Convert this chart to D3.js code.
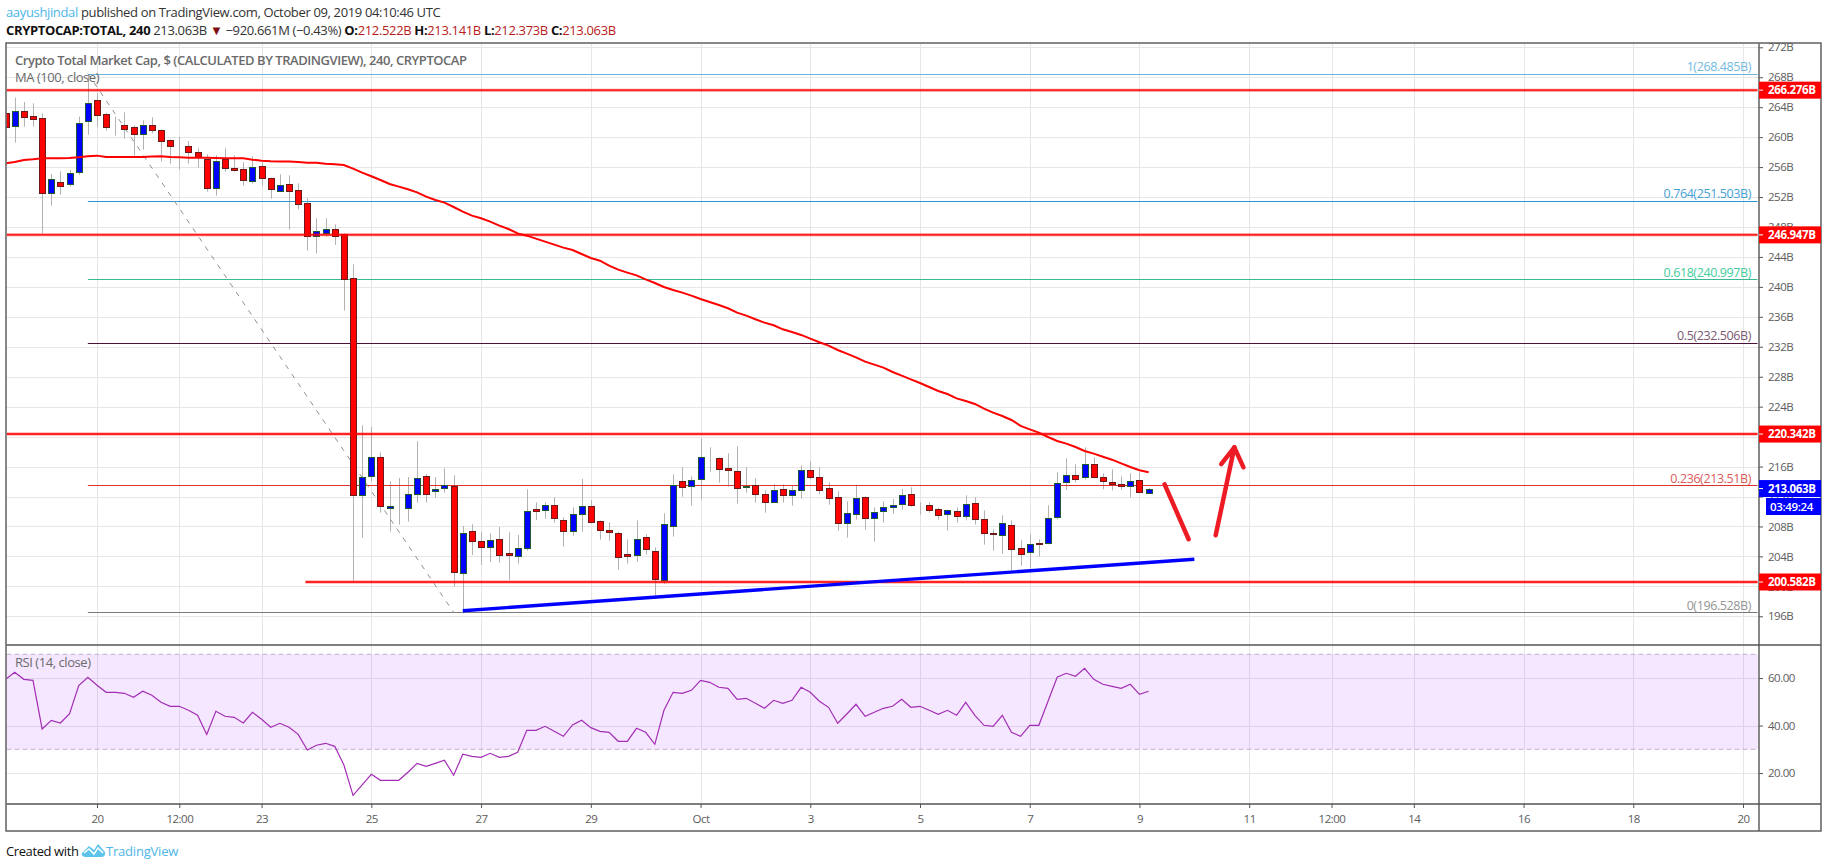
<!DOCTYPE html>
<html>
<head>
<meta charset="utf-8">
<title>Crypto Total Market Cap</title>
<script src="https://cdnjs.cloudflare.com/ajax/libs/d3/7.8.5/d3.min.js"></script>
<style>
  html, body { margin: 0; padding: 0; background: #fff; }
  svg { display: block; }
  text { font-family: "Open Sans", sans-serif; }
</style>
</head>
<body>
<svg id="chart" width="1828" height="868"></svg>
<script>
// 4h candles, first bar is Sep 18 2019 08:00 UTC, values in billions
const first_bar = Date.UTC(2019, 8, 18, 8);

const opens = [263.18,261.40,263.45,262.78,262.52,252.50,253.97,253.70,255.30,262.11,264.92,263.05,261.31,261.58,261.31,260.38,261.58,260.91,259.58,258.78,
  258.78,257.97,257.04,253.17,257.04,255.84,255.70,254.10,256.10,254.50,252.77,253.70,252.90,251.16,246.75,247.16,247.69,247.02,241.15,212.12,
  214.65,217.24,210.38,210.69,210.38,212.29,214.70,212.65,213.05,213.36,201.70,207.35,206.02,205.17,206.28,204.41,204.01,205.08,210.29,210.15,
  210.82,208.82,207.35,209.62,210.69,208.68,207.48,207.08,204.28,204.14,206.55,204.68,200.80,208.15,214.03,213.36,214.29,216.83,217.10,215.76,
  215.36,213.23,213.49,212.29,211.22,212.96,212.16,212.82,215.50,214.56,213.09,211.89,208.42,209.62,211.89,209.09,210.02,210.55,210.96,212.29,
  210.96,210.82,210.29,209.62,210.02,209.35,211.09,208.95,207.08,206.81,208.15,205.08,204.54,205.75,205.75,209.22,213.89,214.83,214.56,216.30,
  214.56,213.89,213.63,213.36,214.16,212.52];
const highs = [263.40,265.27,264.70,264.52,263.18,255.08,255.44,255.61,262.74,268.30,265.85,263.20,262.74,263.32,261.58,262.25,262.65,261.05,259.71,260.02,
  259.49,258.51,257.71,257.57,258.51,257.57,256.64,257.44,256.64,254.60,255.04,254.90,253.83,251.83,249.16,249.16,248.36,247.16,243.02,221.51,
  221.29,217.90,214.03,214.48,214.61,219.37,214.97,214.61,215.77,214.83,208.07,208.29,207.22,207.09,207.93,207.22,206.86,212.96,211.22,211.22,
  211.89,209.22,210.55,214.34,211.53,208.80,208.55,207.30,206.28,208.82,206.95,205.21,209.75,214.96,215.90,214.69,219.77,218.57,217.23,217.77,
  218.70,215.90,214.43,212.82,213.63,213.63,213.49,216.16,216.70,215.90,213.89,212.69,211.36,213.58,212.02,210.55,211.36,211.67,213.00,213.23,
  211.22,211.22,210.51,210.24,210.55,212.16,211.89,210.15,207.62,209.49,208.82,206.15,206.95,206.28,210.82,215.27,217.10,216.30,218.57,217.23,
  215.10,215.63,214.69,215.10,215.23,213.14];
const lows = [261.27,259.27,261.40,261.40,247.16,250.85,252.27,253.39,254.95,260.33,261.40,260.87,260.20,259.80,257.53,258.33,260.51,256.73,256.46,255.66,
  256.46,255.93,252.72,252.19,255.39,255.39,253.52,253.83,253.52,251.79,252.72,247.65,250.36,244.84,244.48,246.71,245.60,236.83,200.76,206.51,
  213.99,209.85,207.31,208.24,208.64,211.18,211.18,211.85,212.52,199.96,196.40,204.19,202.86,203.26,203.16,200.85,203.03,204.77,208.86,209.04,
  208.51,205.30,206.77,207.30,208.42,206.24,206.10,202.23,203.03,203.30,204.23,198.80,200.31,206.64,211.98,210.78,211.58,215.32,213.85,213.31,
  211.04,212.51,211.18,209.84,211.18,211.18,210.78,211.71,214.29,212.29,210.91,207.44,206.50,208.91,207.57,205.97,208.51,209.71,210.24,210.64,
  209.57,209.84,208.91,207.44,208.51,208.82,208.24,205.57,204.77,204.37,202.10,202.76,202.36,203.97,205.61,208.95,212.91,213.89,214.29,214.43,
  212.96,212.82,212.91,211.89,212.51,212.37];
const closes = [261.27,263.45,262.65,262.34,252.50,254.37,253.43,255.17,261.85,264.52,262.87,261.31,261.32,261.05,260.38,261.58,260.91,259.40,258.78,258.73,
  257.97,257.31,253.17,256.77,255.84,255.57,254.23,255.97,254.50,253.03,253.57,252.77,251.03,246.75,247.42,247.69,246.75,241.01,212.11,214.57,
  217.24,210.65,210.69,210.70,212.29,214.43,212.25,212.96,213.50,201.83,207.09,205.97,205.17,206.15,204.14,204.14,205.08,210.02,210.02,210.82,
  209.09,207.35,209.62,210.69,208.55,207.48,207.22,203.88,204.01,206.28,204.95,200.94,208.28,213.58,213.23,214.16,217.23,216.79,215.63,215.50,
  213.09,213.36,212.29,211.22,212.82,212.16,212.82,215.50,214.56,212.82,211.76,208.42,209.75,211.76,209.09,209.89,210.55,210.82,212.16,210.82,
  210.91,210.15,209.49,210.15,209.35,210.96,208.95,207.08,206.95,208.42,204.95,204.28,205.61,205.61,209.09,213.76,214.83,214.29,216.30,214.56,
  214.03,213.63,213.36,214.03,212.56,213.06];
const ma100 = [256.50,256.68,256.95,257.04,257.17,257.17,257.17,257.22,257.31,257.44,257.53,257.35,257.35,257.35,257.35,257.35,257.40,257.44,257.35,257.31,
  257.26,257.26,257.26,257.22,257.17,257.17,257.17,256.99,256.86,256.77,256.73,256.73,256.68,256.59,256.59,256.46,256.37,256.28,255.79,255.26,
  254.77,254.28,253.74,253.39,253.03,252.63,252.05,251.61,251.25,250.67,250.05,249.51,249.16,248.71,248.18,247.73,247.15,246.84,246.44,246.04,
  245.64,245.24,244.93,244.39,243.86,243.50,242.84,242.30,241.90,241.54,241.01,240.52,239.98,239.58,239.23,238.83,238.38,237.98,237.58,237.14,
  236.56,236.16,235.67,235.22,234.87,234.33,233.98,233.58,233.09,232.60,232.15,231.57,231.08,230.59,230.01,229.61,229.21,228.63,228.14,227.65,
  227.16,226.63,226.09,225.69,225.11,224.76,224.36,223.73,223.20,222.75,222.22,221.44,220.97,220.53,219.95,219.42,219.06,218.61,218.08,217.73,
  217.32,216.92,216.43,215.94,215.50,215.23];
const rsi14 = [59.47,62.42,59.47,59.05,38.56,42.21,41.09,45.02,56.81,60.32,56.95,53.99,53.99,53.58,51.89,54.42,52.74,49.79,48.11,48.11,
  46.42,44.32,36.28,46.00,43.90,43.47,41.09,45.58,42.63,39.27,40.95,39.27,36.28,29.72,31.69,32.53,31.26,23.40,10.63,14.98,
  19.47,16.95,16.95,16.95,20.32,24.10,22.84,24.10,25.37,19.05,27.90,27.05,26.63,28.31,26.63,27.05,28.74,38.00,38.00,39.68,
  37.58,35.47,40.25,42.21,39.12,37.58,37.16,33.37,33.37,38.84,37.16,32.11,46.42,53.99,53.58,54.84,59.05,58.21,56.11,55.69,
  51.05,51.47,49.37,47.26,50.63,49.37,50.63,56.11,53.99,50.21,47.68,40.95,44.88,48.95,43.90,45.58,47.26,48.11,51.05,47.68,
  48.11,46.42,44.74,46.42,44.32,49.79,44.32,40.11,39.68,44.32,37.16,35.47,40.11,40.11,50.21,60.32,62.00,60.74,64.10,59.47,
  57.37,56.53,55.69,57.37,53.16,54.42];

const price_ticks = d3.range(196, 273, 4);
const rsi_ticks = [20, 40, 60];
const time_ticks = [
  [Date.UTC(2019, 8, 20), '20'], [Date.UTC(2019, 8, 21, 12), '12:00'], [Date.UTC(2019, 8, 23), '23'],
  [Date.UTC(2019, 8, 25), '25'], [Date.UTC(2019, 8, 27), '27'], [Date.UTC(2019, 8, 29), '29'],
  [Date.UTC(2019, 9, 1), 'Oct'], [Date.UTC(2019, 9, 3), '3'], [Date.UTC(2019, 9, 5), '5'],
  [Date.UTC(2019, 9, 7), '7'], [Date.UTC(2019, 9, 9), '9'], [Date.UTC(2019, 9, 11), '11'],
  [Date.UTC(2019, 9, 12, 12), '12:00'], [Date.UTC(2019, 9, 14), '14'], [Date.UTC(2019, 9, 16), '16'],
  [Date.UTC(2019, 9, 18), '18'], [Date.UTC(2019, 9, 20), '20']
];

// horizontal levels drawn by hand on the chart
const sr_levels = [266.276, 246.947, 220.342, 200.582];
const fib_ratios = ['1', '0.764', '0.618', '0.5', '0.236', '0'];
const fib_prices = [268.485, 251.503, 240.997, 232.506, 213.51, 196.528];
const fib_colors = ['#6fb3dc', '#2b96cf', '#3db894', '#4a1035', '#e03030', '#7a7a7a'];
const fib_text_colors = ['#74b9e0', '#45a0d4', '#45cc9e', '#7a5a72', '#dc5a5a', '#959595'];
const fib_start = Date.UTC(2019, 8, 19, 20);
const fib_end_bar = Date.UTC(2019, 8, 26, 12);

// trend line and the two hand drawn arrows, [time, price]
const trend_line = [[Date.UTC(2019, 8, 26, 16), 196.75], [Date.UTC(2019, 9, 10, 0), 203.62]];
const down_arrow = [[Date.UTC(2019, 9, 9, 11), 213.63], [Date.UTC(2019, 9, 9, 21, 30), 206.29]];
const up_arrow = [[Date.UTC(2019, 9, 10, 9, 20), 206.82], [Date.UTC(2019, 9, 10, 17, 30), 218.57]];
const up_head = [[Date.UTC(2019, 9, 10, 11, 45), 216.34], [Date.UTC(2019, 9, 10, 17, 30), 218.57], [Date.UTC(2019, 9, 10, 21, 30), 215.90]];

const pane_left = 6.5, pane_right = 1759, pane_top = 43.5, pane_bottom = 645, rsi_bottom = 804, frame_right = 1821, frame_bottom = 831;

const svg = d3.select('#chart');

const x = d3.scaleUtc().domain([Date.UTC(2019, 8, 20), Date.UTC(2019, 9, 20)]).range([97, 1743]);
const y = d3.scaleLinear().domain([272, 196]).range([47.3, 616.3]);
const y_rsi = d3.scaleLinear().domain([70, 30]).range([654.3, 749.3]);

const bar_time = i => first_bar + i * 4 * 3600 * 1000;

svg.append('defs').append('clipPath').attr('id', 'main-clip')
  .append('rect').attr('x', pane_left).attr('y', pane_top)
  .attr('width', pane_right - pane_left).attr('height', pane_bottom - pane_top);
svg.select('defs').append('clipPath').attr('id', 'rsi-clip')
  .append('rect').attr('x', pane_left).attr('y', pane_bottom)
  .attr('width', pane_right - pane_left).attr('height', rsi_bottom - pane_bottom);

// grids
const grid = svg.append('g').attr('stroke', '#e6e6e6').attr('stroke-width', 1);
grid.selectAll('.vgrid').data(time_ticks).join('line')
  .attr('class', 'vgrid')
  .attr('x1', d => Math.round(x(d[0])) + 0.5).attr('x2', d => Math.round(x(d[0])) + 0.5)
  .attr('y1', pane_top).attr('y2', rsi_bottom);
grid.selectAll('.hgrid').data(price_ticks).join('line')
  .attr('class', 'hgrid')
  .attr('x1', pane_left).attr('x2', pane_right)
  .attr('y1', d => Math.round(y(d)) + 0.5).attr('y2', d => Math.round(y(d)) + 0.5);
grid.selectAll('.rgrid').data(rsi_ticks).join('line')
  .attr('class', 'rgrid')
  .attr('x1', pane_left).attr('x2', pane_right)
  .attr('y1', d => Math.round(y_rsi(d)) + 0.5).attr('y2', d => Math.round(y_rsi(d)) + 0.5);

// rsi band
svg.append('rect')
  .attr('x', pane_left).attr('y', y_rsi(70))
  .attr('width', pane_right - pane_left - 1).attr('height', y_rsi(30) - y_rsi(70))
  .attr('fill', '#9915ff').attr('fill-opacity', 0.1);
svg.selectAll('.rsi-bound').data([70, 30]).join('line')
  .attr('class', 'rsi-bound')
  .attr('x1', pane_left).attr('x2', pane_right - 1)
  .attr('y1', d => y_rsi(d)).attr('y2', d => y_rsi(d))
  .attr('stroke', '#c3aecb').attr('stroke-dasharray', '5 3');

const main = svg.append('g').attr('clip-path', 'url(#main-clip)');

// wicks under everything
main.selectAll('.wick').data(opens).join('line')
  .attr('class', 'wick')
  .attr('x1', (d, i) => Math.round(x(bar_time(i))) + 0.5).attr('x2', (d, i) => Math.round(x(bar_time(i))) + 0.5)
  .attr('y1', (d, i) => y(highs[i])).attr('y2', (d, i) => y(lows[i]))
  .attr('stroke', '#b2b2b2');

// fib levels
main.selectAll('.fib').data(fib_prices).join('line')
  .attr('class', 'fib')
  .attr('x1', x(fib_start)).attr('x2', pane_right - 1.5)
  .attr('y1', d => Math.round(y(d)) + 0.5).attr('y2', d => Math.round(y(d)) + 0.5)
  .attr('stroke', (d, i) => fib_colors[i]);
main.append('line')
  .attr('x1', x(fib_start)).attr('y1', y(fib_prices[0]))
  .attr('x2', x(fib_end_bar)).attr('y2', y(fib_prices[5]))
  .attr('stroke', '#8f8f8f').attr('stroke-dasharray', '5 6');

// candle bodies
main.selectAll('.body').data(opens).join('rect')
  .attr('class', 'body')
  .attr('x', (d, i) => Math.round(x(bar_time(i))) - 2.5)
  .attr('width', 6)
  .attr('y', (d, i) => Math.round(y(Math.max(d, closes[i]))) + 0.5)
  .attr('height', (d, i) => Math.max(0, Math.round(Math.abs(y(d) - y(closes[i])))))
  .attr('fill', (d, i) => closes[i] >= d ? '#0000ff' : '#ff0000')
  .attr('stroke', (d, i) => closes[i] >= d ? '#1d5c2e' : '#6b1a1a');

// moving average
const line_ma = d3.line().x((d, i) => x(bar_time(i))).y(d => y(d));
main.append('path').datum(ma100)
  .attr('d', line_ma)
  .attr('fill', 'none').attr('stroke', '#ff0000').attr('stroke-width', 2);

// support and resistance
const sr = main.selectAll('.sr').data(sr_levels).join('g').attr('class', 'sr');
const sr_x = d => d === 200.582 ? 305.5 : pane_left;
sr.append('line')
  .attr('x1', sr_x).attr('x2', pane_right - 1.5)
  .attr('y1', d => y(d)).attr('y2', d => y(d))
  .attr('stroke', '#ff0000').attr('stroke-opacity', 0.45).attr('stroke-width', 3);
sr.append('line')
  .attr('x1', sr_x).attr('x2', pane_right - 1.5)
  .attr('y1', d => y(d)).attr('y2', d => y(d))
  .attr('stroke', '#ff0000').attr('stroke-width', 1.4);

// trend line
const line_draw = d3.line().x(d => x(d[0])).y(d => y(d[1]));
main.append('path').datum(trend_line)
  .attr('d', line_draw)
  .attr('fill', 'none').attr('stroke', '#0000ff').attr('stroke-width', 3.4);

// arrows
main.selectAll('.arrow').data([down_arrow, up_arrow, up_head]).join('path')
  .attr('class', 'arrow')
  .attr('d', line_draw)
  .attr('fill', 'none').attr('stroke', '#ed1c24').attr('stroke-width', 4.5)
  .attr('stroke-linecap', 'round').attr('stroke-linejoin', 'round');

// rsi line
const line_rsi = d3.line().x((d, i) => x(bar_time(i))).y(d => y_rsi(d));
svg.append('g').attr('clip-path', 'url(#rsi-clip)')
  .append('path').datum(rsi14)
  .attr('d', line_rsi)
  .attr('fill', 'none').attr('stroke', '#a32db5').attr('stroke-width', 1.2);

// frame
svg.append('rect')
  .attr('x', pane_left - 0.5).attr('y', pane_top - 0.5)
  .attr('width', frame_right - pane_left + 0.5).attr('height', frame_bottom - pane_top + 0.5)
  .attr('fill', 'none').attr('stroke', '#555').attr('stroke-width', 1.4);
[[pane_left, frame_right, pane_bottom], [pane_left, frame_right, rsi_bottom]].forEach(l => {
    svg.append('line').attr('x1', l[0]).attr('x2', l[1]).attr('y1', l[2]).attr('y2', l[2])
      .attr('stroke', '#555').attr('stroke-width', 1.4);
});
svg.append('line').attr('x1', pane_right).attr('x2', pane_right).attr('y1', pane_top).attr('y2', frame_bottom)
  .attr('stroke', '#555').attr('stroke-width', 1.4);

// axes
const tick_style = g => {
    g.select('.domain').remove();
    g.selectAll('line').attr('stroke', '#555');
    g.selectAll('text').attr('fill', '#5c5c5c').style('font-size', '11.5px').style('letter-spacing', '-0.5px');
};
svg.append('g').attr('transform', `translate(${pane_right},0)`)
  .call(d3.axisRight(y).tickValues(price_ticks).tickFormat(d => d + 'B').tickSize(4).tickPadding(5))
  .call(tick_style);
svg.append('g').attr('transform', `translate(${pane_right},0)`)
  .call(d3.axisRight(y_rsi).tickValues(rsi_ticks).tickFormat(d3.format('.2f')).tickSize(4).tickPadding(5))
  .call(tick_style);
svg.append('g').attr('transform', `translate(0,${rsi_bottom})`)
  .call(d3.axisBottom(x).tickValues(time_ticks.map(d => d[0]))
    .tickFormat((d, i) => time_ticks[i][1]).tickSize(4).tickPadding(7))
  .call(tick_style);

// fib labels
svg.selectAll('.fib-label').data(fib_prices).join('text')
  .attr('class', 'fib-label')
  .attr('x', 1751).attr('y', d => y(d) - 2.5)
  .attr('text-anchor', 'end')
  .attr('fill', (d, i) => fib_text_colors[i])
  .style('font-size', '12.5px').style('letter-spacing', '-0.4px')
  .text((d, i) => `${fib_ratios[i]}(${d}B)`);

// price tags
const tag = svg.selectAll('.tag').data(sr_levels.map(d => [d, '#ff0000']).concat([[213.063, '#0000ff']])).join('g').attr('class', 'tag');
tag.append('rect')
  .attr('x', pane_right).attr('width', frame_right - pane_right)
  .attr('y', d => y(d[0]) - 8.5).attr('height', 17)
  .attr('fill', d => d[1]);
tag.append('line')
  .attr('x1', pane_right).attr('x2', pane_right + 4)
  .attr('y1', d => y(d[0])).attr('y2', d => y(d[0]))
  .attr('stroke', '#fff');
tag.append('text')
  .attr('x', 1768).attr('y', d => y(d[0]) + 4)
  .attr('fill', '#fff').attr('font-weight', 700)
  .style('font-size', '11.5px').style('letter-spacing', '-0.35px')
  .text(d => d[0].toFixed(3) + 'B');
svg.append('rect').attr('x', 1766).attr('y', 498).attr('width', frame_right - 1766).attr('height', 17).attr('fill', '#0000ff');
svg.append('text').attr('x', 1770).attr('y', 510.5)
  .attr('fill', '#fff').attr('font-weight', 600)
  .style('font-size', '11.5px').style('letter-spacing', '-0.35px')
  .text('03:49:24');

// pane titles
const pane_title = (label, px, py, weight) => svg.append('text')
  .attr('x', px).attr('y', py).attr('fill', '#6a6a6a').attr('font-weight', weight)
  .style('font-size', '13px').style('letter-spacing', '-0.45px').text(label);
pane_title('Crypto Total Market Cap, $ (CALCULATED BY TRADINGVIEW), 240, CRYPTOCAP', 15, 65, 600);
pane_title('MA (100, close)', 15, 82, 400);
pane_title('RSI (14, close)', 15, 667, 400);

// header
const header = svg.append('text').attr('x', 6).attr('y', 17).style('font-size', '13px').style('letter-spacing', '-0.35px');
header.append('tspan').attr('fill', '#4db6e8').text('aayushjindal');
header.append('tspan').attr('fill', '#333').text(' published on TradingView.com, October 09, 2019 04:10:46 UTC');

const quote = svg.append('text').attr('x', 6).attr('y', 34.5).style('font-size', '13px').style('letter-spacing', '-0.35px');
const quote_parts = [
  ['CRYPTOCAP:TOTAL, 240 ', '#111', 700], [' 213.063B ', '#333', 400], ['▼', '#7f1010', 400],
  [' −920.661M (−0.43%) ', '#333', 400], ['O:', '#111', 700], ['212.522B ', '#b71c1c', 400],
  ['H:', '#111', 700], ['213.141B ', '#b71c1c', 400], ['L:', '#111', 700], ['212.373B ', '#b71c1c', 400],
  ['C:', '#111', 700], ['213.063B', '#b71c1c', 400]
];
quote.selectAll('tspan').data(quote_parts).join('tspan')
  .attr('fill', d => d[1]).attr('font-weight', d => d[2]).text(d => d[0]);

// footer
svg.append('text').attr('x', 6).attr('y', 856).attr('fill', '#111').style('font-size', '13px').style('letter-spacing', '-0.4px').text('Created with');
svg.append('path')
  .attr('d', 'M82 853 L89 846 L94 850 L98 844 L105 852 Q106 857 101 857 L86 857 Q81 857 82 853 Z')
  .attr('fill', '#5cc4ea');
svg.append('path')
  .attr('d', 'M84 853 L89 849 L94 854 L98 848 L103 853')
  .attr('fill', 'none').attr('stroke', '#fff').attr('stroke-width', 1.5);
svg.append('text').attr('x', 106).attr('y', 856).attr('fill', '#4db6e8').style('font-size', '13px').style('letter-spacing', '-0.2px').text('TradingView');
</script>
</body>
</html>
